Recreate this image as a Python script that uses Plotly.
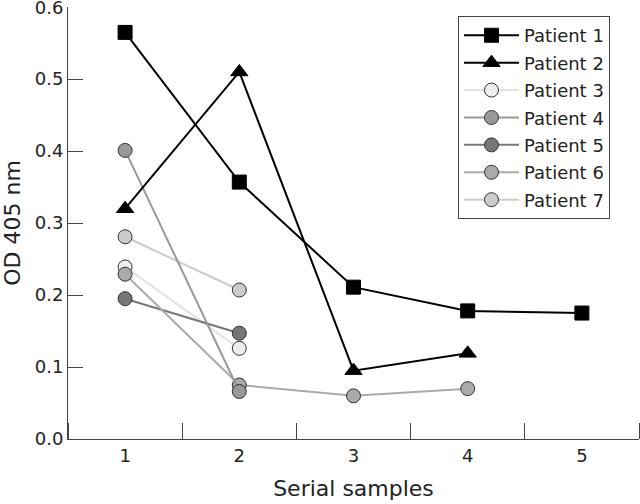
import plotly.graph_objects as go

samples = [1, 2, 3, 4, 5]
patient_names = ["Patient 1", "Patient 2", "Patient 3", "Patient 4", "Patient 5", "Patient 6", "Patient 7"]
p1 = [0.565, 0.357, 0.211, 0.178, 0.175]
p2 = [0.320, 0.510, 0.095, 0.119]
p3 = [0.239, 0.126]
p4 = [0.401, 0.066]
p5 = [0.195, 0.147]
p6 = [0.229, 0.075, 0.060, 0.070]
p7 = [0.281, 0.207]
values = [p1, p2, p3, p4, p5, p6, p7]

symbols = ["square", "triangle-up", "circle", "circle", "circle", "circle", "circle"]
fills = ["#000000", "#000000", "#eeeeee", "#999999", "#777777", "#aaaaaa", "#cccccc"]
lines = ["#000000", "#000000", "#e2e2e2", "#999999", "#777777", "#aaaaaa", "#cccccc"]
outline = ["#000000", "#000000", "#333333", "#333333", "#333333", "#333333", "#333333"]
sizes = [14, 15, 14, 14, 14, 14, 14]

# drawing order (later = on top); legend order kept via legendrank
draw_order = [6, 2, 4, 5, 3, 1, 0]

fig = go.Figure()
for i in draw_order:
    v = values[i]
    fig.add_trace(go.Scatter(
        x=samples[:len(v)], y=v, name=patient_names[i], mode="lines+markers",
        legendgroup=patient_names[i], legendrank=i + 1,
        line=dict(color=lines[i], width=2),
        marker=dict(symbol=symbols[i], size=sizes[i], color=fills[i],
                    line=dict(color=outline[i], width=1)),
    ))

font = "'DejaVu Sans', sans-serif"
fig.update_layout(
    width=640, height=504,
    margin=dict(l=68, r=1, t=7, b=65),
    plot_bgcolor="white", paper_bgcolor="white",
    font=dict(family=font, size=18, color="#222222"),
    showlegend=True,
    legend=dict(
        x=0.683, y=0.979, xanchor="left", yanchor="top",
        bordercolor="#444444", borderwidth=1, bgcolor="white",
        font=dict(size=18), tracegroupgap=1, itemwidth=55,
        entrywidth=156, entrywidthmode="pixels",
    ),
    xaxis=dict(
        range=[0.5, 5.5], tickvals=samples, ticktext=[str(s) for s in samples],
        showgrid=False, zeroline=False, showline=True, linecolor="#444444", linewidth=1,
        ticks="", automargin=False,
        minor=dict(tick0=0.5, dtick=1, ticks="inside", ticklen=16, tickcolor="#444444", tickwidth=1, showgrid=False),
        title=dict(text="Serial samples", standoff=16),
    ),
    yaxis=dict(
        range=[0, 0.6003], tickvals=[0, 0.1, 0.2, 0.3, 0.4, 0.5, 0.6],
        ticktext=["0.0", "0.1", "0.2", "0.3", "0.4", "0.5", "0.6"],
        showgrid=False, zeroline=False, showline=True, linecolor="#444444", linewidth=1,
        ticks="inside", ticklen=15, tickcolor="#444444", tickwidth=1, automargin=False,
        ticklabeloverflow="allow",
        title=dict(text="OD 405 nm", standoff=10),
    ),
)

fig.write_html("out.html", post_script="document.body.style.margin='0px';",
               config={"displayModeBar": False})
